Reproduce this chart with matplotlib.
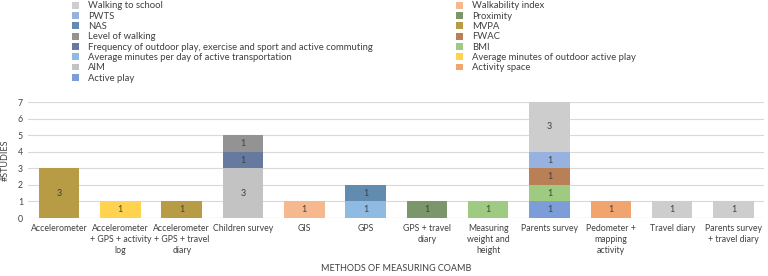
import numpy as np
import matplotlib.pyplot as plt
from matplotlib.patches import Patch

plt.rcParams['font.family'] = ['Lato', 'DejaVu Sans']

# categories (x axis)
categories = [
    "Accelerometer",
    "Accelerometer\n+ GPS + activity\nlog",
    "Accelerometer\n+ GPS + travel\ndiary",
    "Children survey",
    "GIS",
    "GPS",
    "GPS + travel\ndiary",
    "Measuring\nweight and\nheight",
    "Parents survey",
    "Pedometer +\nmapping\nactivity",
    "Travel diary",
    "Parents survey\n+ travel diary",
]

# series values, one per category (stacking order bottom -> top)
active_play        = [0, 0, 0, 0, 0, 0, 0, 0, 1, 0, 0, 0]
activity_space     = [0, 0, 0, 0, 0, 0, 0, 0, 0, 1, 0, 0]
aim                = [0, 0, 0, 3, 0, 0, 0, 0, 0, 0, 0, 0]
avg_outdoor_play   = [0, 1, 0, 0, 0, 0, 0, 0, 0, 0, 0, 0]
avg_active_transp  = [0, 0, 0, 0, 0, 1, 0, 0, 0, 0, 0, 0]
bmi                = [0, 0, 0, 0, 0, 0, 0, 1, 1, 0, 0, 0]
frequency_play     = [0, 0, 0, 1, 0, 0, 0, 0, 0, 0, 0, 0]
fwac               = [0, 0, 0, 0, 0, 0, 0, 0, 1, 0, 0, 0]
level_walking      = [0, 0, 0, 1, 0, 0, 0, 0, 0, 0, 0, 0]
mvpa               = [3, 0, 1, 0, 0, 0, 0, 0, 0, 0, 0, 0]
nas                = [0, 0, 0, 0, 0, 1, 0, 0, 0, 0, 0, 0]
proximity          = [0, 0, 0, 0, 0, 0, 1, 0, 0, 0, 0, 0]
pwts               = [0, 0, 0, 0, 0, 0, 0, 0, 1, 0, 0, 0]
walkability_index  = [0, 0, 0, 0, 1, 0, 0, 0, 0, 0, 0, 0]
walking_to_school  = [0, 0, 0, 0, 0, 0, 0, 0, 3, 0, 1, 1]

series = [
    ("Active play", active_play, "#7c9dd8"),
    ("Activity space", activity_space, "#f2a46f"),
    ("AIM", aim, "#c3c3c3"),
    ("Average minutes of outdoor active play", avg_outdoor_play, "#ffd34f"),
    ("Average minutes per day of active transportation", avg_active_transp, "#8fbbe3"),
    ("BMI", bmi, "#9fca81"),
    ("Frequency of outdoor play, exercise and sport and active commuting", frequency_play, "#66799f"),
    ("FWAC", fwac, "#b97f57"),
    ("Level of walking", level_walking, "#939393"),
    ("MVPA", mvpa, "#b89c45"),
    ("NAS", nas, "#628bb0"),
    ("Proximity", proximity, "#7b966b"),
    ("PWTS", pwts, "#98b2df"),
    ("Walkability index", walkability_index, "#f5b88f"),
    ("Walking to school", walking_to_school, "#cdcdcd"),
]

fig = plt.figure(figsize=(7.68, 2.76), dpi=100)
ax = fig.add_axes([0.037, 0.21, 0.958, 0.42])

x = np.arange(len(categories))
bottom = np.zeros(len(categories))
for name, vals, col in series:
    vals = np.array(vals, dtype=float)
    ax.bar(x, vals, bottom=bottom, width=0.66, color=col, zorder=2)
    for xi, v, b in zip(x, vals, bottom):
        if v > 0:
            ax.text(xi, b + v / 2, f"{int(v)}", ha='center', va='center',
                    fontsize=6.5, color='#404040', zorder=3)
    bottom += vals

ax.set_xlim(-0.5, len(categories) - 0.5)
ax.set_ylim(0, 7)
ax.set_yticks(range(8))
ax.grid(axis='y', color='#d9d9d9', linewidth=0.8, zorder=0)
for s in ax.spines.values():
    s.set_visible(False)
ax.axhline(0, color='#d9d9d9', linewidth=0.8, zorder=1)
ax.tick_params(length=0, labelsize=6.3, colors='#404040', pad=4)
ax.set_xticks(x)
ax.set_xticklabels(categories, linespacing=1.35)
ax.set_ylabel("#STUDIES", fontsize=6.5, color='#404040', labelpad=6)
ax.set_xlabel("METHODS OF MEASURING COAMB", fontsize=6.5, color='#404040', labelpad=6)

# legend: two columns, Excel order (reversed series, row-wise)
rev = series[::-1]
left = rev[0::2]
right = rev[1::2]

def make_legend(items, xpos):
    handles = [Patch(facecolor=c, edgecolor='none') for _, _, c in items]
    labels = [n for n, _, _ in items]
    leg = plt.legend(handles, labels, loc='upper left', bbox_to_anchor=(xpos, 0.995),
                     bbox_transform=fig.transFigure,
                     frameon=False, fontsize=6.8, handlelength=0.75, handleheight=0.75,
                     handletextpad=0.9, labelspacing=0.14, borderaxespad=0, borderpad=0,
                     labelcolor='#404040')
    return leg

leg1 = make_legend(left, 0.094)
ax.add_artist(leg1)
make_legend(right, 0.594)

plt.savefig("out.png", dpi=100)
